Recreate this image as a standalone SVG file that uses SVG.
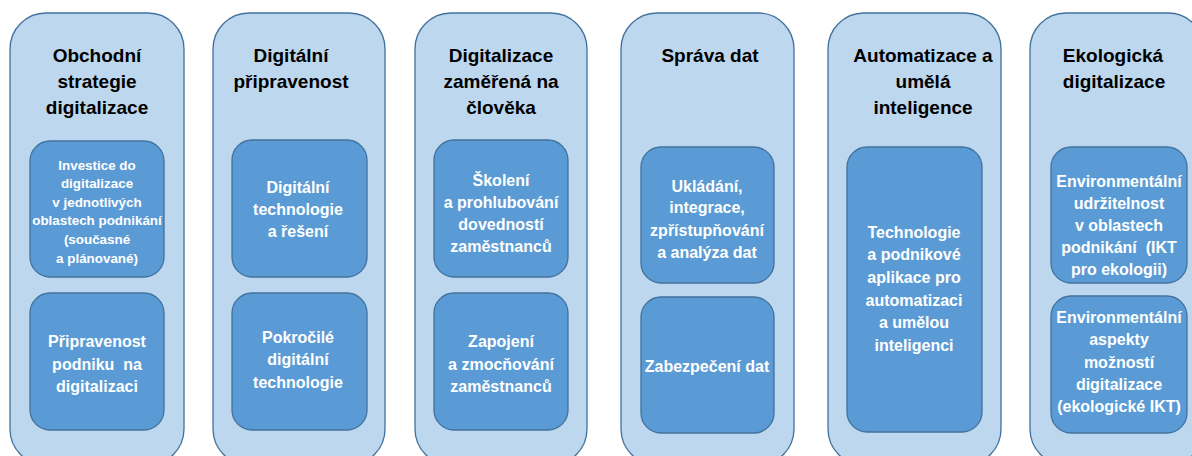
<svg xmlns="http://www.w3.org/2000/svg" width="1192" height="456" viewBox="0 0 1192 456">
<style>
.outer{fill:#BDD7EE;stroke:#41719C;stroke-width:1.3}
.inner{fill:#5B9BD5;stroke:#41719C;stroke-width:1.3}
.h{font-family:"Liberation Sans",Arial,sans-serif;font-weight:bold;font-size:19px;fill:#000;text-anchor:middle}
.t{font-family:"Liberation Sans",Arial,sans-serif;font-weight:bold;font-size:16px;fill:#fff;text-anchor:middle}
.s{font-family:"Liberation Sans",Arial,sans-serif;font-weight:bold;font-size:13.4px;fill:#fff;text-anchor:middle}
</style>
<rect width="1192" height="456" fill="#fff"/>
<g id="connectors"/>

<g id="col1">
<rect class="outer" x="10" y="13" width="174" height="452" rx="36"/>
<text class="h" x="97" y="62">Obchodní</text>
<text class="h" x="97" y="88">strategie</text>
<text class="h" x="97" y="114">digitalizace</text>
<g id="col1-a">
<rect class="inner" x="30" y="141" width="134" height="136" rx="20"/>
<text class="s" x="97" y="170">Investice do</text>
<text class="s" x="97" y="188">digitalizace</text>
<text class="s" x="97" y="207">v jednotlivých</text>
<text class="s" x="97" y="225">oblastech podnikání</text>
<text class="s" x="97" y="244">(současné</text>
<text class="s" x="97" y="263">a plánované)</text>
</g>
<g id="col1-b">
<rect class="inner" x="30" y="293" width="134" height="137" rx="20"/>
<text class="t" x="97" y="347">Připravenost</text>
<text class="t" x="97" y="370" xml:space="preserve">podniku  na</text>
<text class="t" x="97" y="392">digitalizaci</text>
</g>
</g>

<g id="col2">
<rect class="outer" x="213" y="13" width="172" height="452" rx="36"/>
<text class="h" x="291" y="62">Digitální</text>
<text class="h" x="291" y="88">připravenost</text>
<g id="col2-a">
<rect class="inner" x="232" y="140" width="135" height="137" rx="20"/>
<text class="t" x="298" y="193">Digitální</text>
<text class="t" x="298" y="215">technologie</text>
<text class="t" x="298" y="237">a řešení</text>
</g>
<g id="col2-b">
<rect class="inner" x="232" y="293" width="135" height="137" rx="20"/>
<text class="t" x="298" y="343">Pokročilé</text>
<text class="t" x="298" y="365">digitální</text>
<text class="t" x="298" y="388">technologie</text>
</g>
</g>

<g id="col3">
<rect class="outer" x="415" y="13" width="172" height="452" rx="36"/>
<text class="h" x="501" y="62">Digitalizace</text>
<text class="h" x="501" y="88">zaměřená na</text>
<text class="h" x="501" y="114">člověka</text>
<g id="col3-a">
<rect class="inner" x="434" y="140" width="134" height="137" rx="20"/>
<text class="t" x="501" y="186">Školení</text>
<text class="t" x="501" y="208">a prohlubování</text>
<text class="t" x="501" y="230">dovedností</text>
<text class="t" x="501" y="252">zaměstnanců</text>
</g>
<g id="col3-b">
<rect class="inner" x="434" y="293" width="134" height="137" rx="20"/>
<text class="t" x="501" y="347">Zapojení</text>
<text class="t" x="501" y="370">a zmocňování</text>
<text class="t" x="501" y="392">zaměstnanců</text>
</g>
</g>

<g id="col4">
<rect class="outer" x="621" y="13" width="173" height="452" rx="36"/>
<text class="h" x="710" y="62">Správa dat</text>
<g id="col4-a">
<rect class="inner" x="641" y="147" width="133" height="136" rx="20"/>
<text class="t" x="707" y="192">Ukládání,</text>
<text class="t" x="707" y="213">integrace,</text>
<text class="t" x="707" y="236">zpřístupňování</text>
<text class="t" x="707" y="258">a analýza dat</text>
</g>
<g id="col4-b">
<rect class="inner" x="641" y="297" width="133" height="136" rx="20"/>
<text class="t" x="707" y="372">Zabezpečení dat</text>
</g>
</g>

<g id="col5">
<rect class="outer" x="828" y="13" width="173" height="452" rx="36"/>
<text class="h" x="923" y="62">Automatizace a</text>
<text class="h" x="923" y="88">umělá</text>
<text class="h" x="923" y="114">inteligence</text>
<g id="col5-a">
<rect class="inner" x="847" y="147" width="135" height="285" rx="20"/>
<text class="t" x="914" y="238">Technologie</text>
<text class="t" x="914" y="260">a podnikové</text>
<text class="t" x="914" y="283">aplikace pro</text>
<text class="t" x="914" y="306">automatizaci</text>
<text class="t" x="914" y="328">a umělou</text>
<text class="t" x="914" y="351">inteligenci</text>
</g>
</g>

<g id="col6">
<rect class="outer" x="1030" y="13" width="174" height="452" rx="36"/>
<text class="h" x="1113" y="62">Ekologická</text>
<text class="h" x="1114" y="88">digitalizace</text>
<g id="col6-a">
<rect class="inner" x="1051" y="147" width="136" height="136" rx="20"/>
<text class="t" x="1119" y="187">Environmentální</text>
<text class="t" x="1119" y="209">udržitelnost</text>
<text class="t" x="1119" y="231">v oblastech</text>
<text class="t" x="1119" y="253" xml:space="preserve">podnikání  (IKT</text>
<text class="t" x="1119" y="275">pro ekologii)</text>
</g>
<g id="col6-b">
<rect class="inner" x="1051" y="296" width="136" height="137" rx="20"/>
<text class="t" x="1119" y="323">Environmentální</text>
<text class="t" x="1119" y="345">aspekty</text>
<text class="t" x="1119" y="368">možností</text>
<text class="t" x="1119" y="390">digitalizace</text>
<text class="t" x="1119" y="412">(ekologické IKT)</text>
</g>
</g>
</svg>
